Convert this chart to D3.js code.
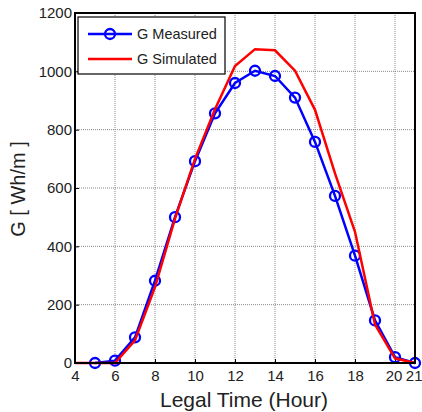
<!DOCTYPE html>
<html>
<head>
<meta charset="utf-8">
<script src="https://cdn.jsdelivr.net/npm/d3@7"></script>
<style>
  html, body { margin: 0; padding: 0; background: #fff; }
  svg text { font-family: "Liberation Sans", Arial, sans-serif; fill: #222; }
  .grid line { stroke: #888; stroke-dasharray: 1,1; stroke-width: 1; }
</style>
</head>
<body>
<div id="chart"></div>
<script>
(function () {
  var hoursMeasured = [5, 6, 7, 8, 9, 10, 11, 12, 13, 14, 15, 16, 17, 18, 19, 20, 21];
  var gMeasured = [0, 8, 88, 282, 500, 692, 856, 960, 1002, 984, 910, 758, 573, 368, 146, 20, 0];
  var hoursSimulated = [4, 5, 6, 7, 8, 9, 10, 11, 12, 13, 14, 15, 16, 17, 18, 19, 20, 21];
  var gSimulated = [0, 0, 0, 78, 260, 495, 700, 870, 1018, 1076, 1072, 1002, 868, 650, 450, 132, 16, 0];
  var xTicks = [4, 6, 8, 10, 12, 14, 16, 18, 20, 21];
  var yTicks = [0, 200, 400, 600, 800, 1000, 1200];
  var seriesNames = ['G Measured', 'G Simulated'];

  var width = 422, height = 412;
  var margin = { top: 13, right: 7, bottom: 49, left: 75 };
  var innerWidth = width - margin.left - margin.right;
  var innerHeight = height - margin.top - margin.bottom;

  var svg = d3.select('#chart').append('svg')
    .attr('width', width)
    .attr('height', height);

  var plot = svg.append('g')
    .attr('transform', 'translate(' + margin.left + ',' + margin.top + ')');

  var xScale = d3.scaleLinear().domain([4, 21]).range([0, innerWidth]);
  var yScale = d3.scaleLinear().domain([0, 1200]).range([innerHeight, 0]);

  // grid
  var grid = plot.append('g').attr('class', 'grid');
  grid.selectAll('.vg').data(xTicks.slice(1, -1)).enter().append('line')
    .attr('x1', function (d) { return xScale(d); })
    .attr('x2', function (d) { return xScale(d); })
    .attr('y1', 0).attr('y2', innerHeight);
  grid.selectAll('.hg').data(yTicks.slice(1, -1)).enter().append('line')
    .attr('y1', function (d) { return yScale(d); })
    .attr('y2', function (d) { return yScale(d); })
    .attr('x1', 0).attr('x2', innerWidth);

  // axes
  var xAxis = plot.append('g')
    .attr('transform', 'translate(0,' + innerHeight + ')')
    .call(d3.axisBottom(xScale).tickValues(xTicks).tickSize(-4).tickPadding(7).tickFormat(d3.format('d')));
  var yAxis = plot.append('g')
    .call(d3.axisLeft(yScale).tickValues(yTicks).tickSize(-4).tickPadding(3).tickFormat(d3.format('d')));
  [xAxis, yAxis].forEach(function (a) {
    a.select('.domain').remove();
    a.selectAll('.tick line').attr('stroke', '#000');
    a.selectAll('.tick text').style('font-size', '15px').attr('fill', '#222');
  });
  // 20 and 21 are crowded against the right edge, as in the original
  xAxis.selectAll('.tick text')
    .filter(function (d) { return d === 20; })
    .attr('dx', -1.5);
  xAxis.selectAll('.tick text')
    .filter(function (d) { return d === 21; })
    .attr('text-anchor', 'end')
    .attr('dx', 7);

  var line = d3.line()
    .x(function (d) { return xScale(d[0]); })
    .y(function (d) { return yScale(d[1]); });

  var measured = hoursMeasured.map(function (h, i) { return [h, gMeasured[i]]; });
  var simulated = hoursSimulated.map(function (h, i) { return [h, gSimulated[i]]; });

  plot.append('path')
    .attr('d', line(measured))
    .attr('fill', 'none')
    .attr('stroke', '#0000ff')
    .attr('stroke-width', 2.5);

  plot.selectAll('.pt').data(measured).enter().append('circle')
    .attr('cx', function (d) { return xScale(d[0]); })
    .attr('cy', function (d) { return yScale(d[1]); })
    .attr('r', 5)
    .attr('fill', 'none')
    .attr('stroke', '#0000ff')
    .attr('stroke-width', 2.3);

  plot.append('path')
    .attr('d', line(simulated))
    .attr('fill', 'none')
    .attr('stroke', '#ff0000')
    .attr('stroke-width', 2.5);

  // frame
  plot.append('rect')
    .attr('x', 0).attr('y', 0)
    .attr('width', innerWidth).attr('height', innerHeight)
    .attr('fill', 'none')
    .attr('stroke', '#000')
    .attr('stroke-width', 2);

  // legend
  var legend = plot.append('g').attr('transform', 'translate(3,4)');
  legend.append('rect')
    .attr('width', 147).attr('height', 57)
    .attr('fill', '#fff')
    .attr('stroke', '#000')
    .attr('stroke-width', 1.2);
  var colors = ['#0000ff', '#ff0000'];
  seriesNames.forEach(function (name, i) {
    var y = 17 + i * 25;
    legend.append('line')
      .attr('x1', 10).attr('x2', 54)
      .attr('y1', y).attr('y2', y)
      .attr('stroke', colors[i])
      .attr('stroke-width', 2.5);
    if (i === 0) {
      legend.append('circle')
        .attr('cx', 32).attr('cy', y).attr('r', 5)
        .attr('fill', 'none')
        .attr('stroke', colors[i])
        .attr('stroke-width', 2.3);
    }
    legend.append('text')
      .attr('x', 59).attr('y', y + 5)
      .style('font-size', '14.5px')
      .text(name);
  });

  // axis titles
  svg.append('text')
    .attr('x', 244)
    .attr('y', 407)
    .attr('text-anchor', 'middle')
    .style('font-size', '21px')
    .text('Legal Time (Hour)');

  svg.append('text')
    .attr('transform', 'translate(25,189) rotate(-90)')
    .attr('text-anchor', 'middle')
    .style('font-size', '20px')
    .text('G [ Wh/m ]');
})();
</script>
</body>
</html>
